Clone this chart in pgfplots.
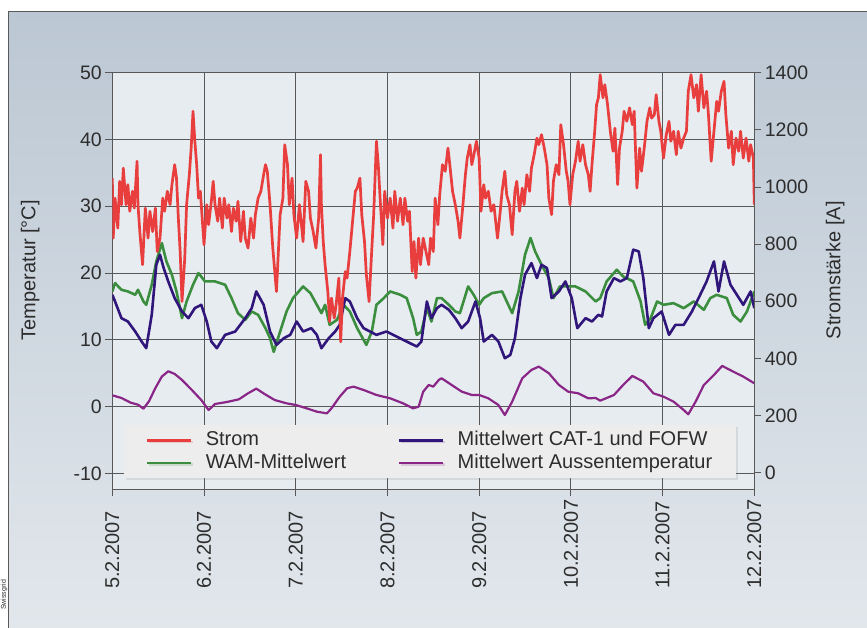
\documentclass[border=0pt]{standalone}
\usepackage{pgfplots}
\pgfplotsset{compat=1.18}
\usepackage{fontspec}
\setmainfont{Liberation Sans}
\usetikzlibrary{shadows}
\newcommand\fs[1]{\fontsize{#1}{#1}\selectfont}
\definecolor{strom}{RGB}{233,62,62}
\definecolor{wam}{RGB}{58,142,62}
\definecolor{cat}{RGB}{48,22,122}
\definecolor{aussen}{RGB}{138,38,135}
\definecolor{bgtop}{RGB}{187,199,211}
\definecolor{bgmid}{RGB}{204,213,222}
\definecolor{bgbot}{RGB}{226,231,236}
\definecolor{plotbg}{RGB}{231,236,240}
\definecolor{gridc}{RGB}{88,88,88}
\definecolor{textc}{RGB}{45,45,45}
\definecolor{legbg}{RGB}{237,237,237}

\pgfplotstableread{
d T
0.00 1.7
0.10 1.3
0.20 0.6
0.28 0.3
0.34 -0.3
0.40 0.8
0.47 2.8
0.54 4.5
0.61 5.3
0.68 4.9
0.76 4.0
0.86 2.6
0.97 1.0
1.05 -0.5
1.12 0.4
1.25 0.7
1.38 1.1
1.48 2.0
1.57 2.7
1.66 1.9
1.77 1.0
1.90 0.5
2.00 0.25
2.12 -0.25
2.23 -0.75
2.34 -1.0
2.39 -0.25
2.48 1.5
2.56 2.75
2.63 3.0
2.74 2.5
2.88 1.75
3.03 1.25
3.17 0.5
3.28 -0.25
3.34 0.0
3.39 2.25
3.45 3.25
3.50 3.0
3.56 4.0
3.59 4.25
3.70 3.25
3.81 2.25
3.92 1.75
4.00 1.75
4.10 1.25
4.21 0.25
4.28 -1.25
4.36 0.75
4.47 4.25
4.57 5.5
4.65 6.0
4.76 5.0
4.87 3.25
4.97 2.25
5.08 2.0
5.19 1.25
5.27 1.3
5.32 0.9
5.47 1.75
5.57 3.25
5.67 4.6
5.79 3.75
5.90 2.0
6.01 1.5
6.12 0.75
6.23 -0.5
6.28 -1.15
6.36 0.75
6.45 3.25
6.56 4.75
6.65 6.1
6.77 5.25
6.88 4.5
7.00 3.5
}\aussendata

\pgfplotstableread{
d T
0.00 17.25
0.03 18.5
0.10 17.5
0.17 17.25
0.25 16.75
0.28 17.5
0.34 15.75
0.37 15.25
0.43 18.25
0.48 21.75
0.54 24.5
0.59 21.75
0.65 19.75
0.70 17.25
0.76 13.25
0.81 15.75
0.88 18.25
0.94 20.0
1.01 18.75
1.12 18.75
1.23 18.25
1.30 16.25
1.37 14.0
1.45 13.0
1.52 14.25
1.59 13.75
1.67 11.75
1.72 10.25
1.76 8.2
1.83 11.25
1.90 14.25
1.97 16.25
2.08 18.0
2.16 17.0
2.23 15.25
2.28 14.0
2.32 15.25
2.37 12.25
2.45 13.0
2.52 15.25
2.59 14.25
2.67 11.75
2.77 9.25
2.83 11.25
2.88 15.25
2.96 16.25
3.03 17.25
3.14 16.75
3.21 16.25
3.28 13.25
3.32 10.75
3.37 11.25
3.43 14.75
3.48 12.75
3.54 16.25
3.59 16.25
3.67 15.25
3.74 14.25
3.79 14.0
3.88 18.0
3.94 16.75
4.00 15.25
4.05 16.25
4.14 17.0
4.25 17.25
4.36 14.0
4.43 17.25
4.50 22.75
4.56 25.25
4.61 23.25
4.68 21.25
4.76 19.25
4.81 16.25
4.88 18.0
4.97 18.0
5.05 18.0
5.16 17.25
5.27 15.75
5.32 16.25
5.39 18.75
5.50 20.5
5.57 19.5
5.68 18.75
5.76 15.75
5.81 12.25
5.87 13.25
5.94 15.75
6.01 15.25
6.12 15.5
6.23 14.75
6.34 15.75
6.45 14.5
6.52 16.25
6.59 16.75
6.70 16.25
6.77 13.75
6.85 12.75
6.92 14.25
7.00 17.25
}\wamdata

\pgfplotstableread{
d T
0.00 16.75
0.03 15.75
0.10 13.25
0.17 12.75
0.25 11.25
0.32 9.75
0.37 8.75
0.43 13.75
0.48 21.25
0.52 22.75
0.56 20.75
0.61 18.75
0.68 16.25
0.76 14.25
0.83 13.25
0.90 14.75
0.97 15.25
1.03 12.75
1.08 9.75
1.14 8.75
1.23 10.75
1.34 11.25
1.45 13.25
1.52 14.75
1.57 17.25
1.65 15.25
1.72 11.25
1.79 9.25
1.87 10.25
1.94 10.75
2.01 12.75
2.08 11.25
2.17 11.75
2.23 10.75
2.28 8.75
2.36 10.25
2.43 11.25
2.48 12.25
2.54 16.25
2.59 15.75
2.67 13.25
2.74 11.75
2.81 11.25
2.88 10.75
2.99 11.25
3.10 10.5
3.21 9.75
3.32 9.0
3.37 9.75
3.43 15.75
3.48 13.25
3.54 14.75
3.59 15.25
3.67 14.5
3.74 13.25
3.81 11.75
3.88 12.75
3.96 15.75
4.01 13.25
4.05 9.75
4.14 10.75
4.21 9.75
4.28 7.25
4.34 7.75
4.39 10.25
4.45 16.25
4.50 19.75
4.57 21.5
4.63 19.25
4.68 21.25
4.74 20.75
4.79 16.25
4.87 17.25
4.94 18.75
5.01 16.25
5.07 11.75
5.16 13.25
5.23 12.75
5.30 13.75
5.34 13.5
5.39 17.25
5.47 19.25
5.54 18.75
5.61 19.25
5.68 23.5
5.74 23.25
5.79 19.25
5.85 11.75
5.90 13.25
5.99 14.25
6.07 10.75
6.14 12.25
6.23 12.25
6.32 14.25
6.41 16.75
6.48 18.75
6.56 21.75
6.61 17.25
6.67 21.75
6.74 18.25
6.81 16.75
6.88 15.25
6.96 17.25
7.00 14.75
}\catdata

\pgfplotstableread{
d A
0.00 1031
0.01 821
0.03 961
0.06 856
0.08 1020
0.10 938
0.12 1066
0.15 938
0.17 1008
0.19 915
0.22 985
0.24 926
0.27 1090
0.28 938
0.30 844
0.33 728
0.36 926
0.39 821
0.41 915
0.44 844
0.47 926
0.49 774
0.52 821
0.55 961
0.57 915
0.60 985
0.63 938
0.65 1008
0.68 1078
0.70 1031
0.72 891
0.74 774
0.76 599
0.79 751
0.81 938
0.84 1043
0.86 1136
0.88 1265
0.90 1160
0.92 1078
0.94 961
0.96 985
0.98 891
1.00 798
1.03 938
1.05 868
1.08 950
1.10 1020
1.12 938
1.15 880
1.17 961
1.20 856
1.22 961
1.25 891
1.27 938
1.30 844
1.32 926
1.35 880
1.37 950
1.40 809
1.43 915
1.45 821
1.48 786
1.51 891
1.54 821
1.56 903
1.59 961
1.62 985
1.65 1043
1.67 1078
1.69 1055
1.72 938
1.75 786
1.79 634
1.83 903
1.86 961
1.88 1148
1.91 1078
1.93 938
1.96 1031
1.98 903
2.01 821
2.04 938
2.07 844
2.08 809
2.11 1020
2.14 985
2.16 891
2.19 844
2.22 786
2.25 891
2.27 1113
2.28 938
2.30 809
2.32 728
2.35 634
2.37 529
2.39 611
2.42 541
2.44 587
2.47 681
2.49 458
2.51 611
2.54 704
2.56 681
2.59 774
2.62 880
2.65 985
2.67 996
2.70 1031
2.72 903
2.75 809
2.77 693
2.80 599
2.83 786
2.85 903
2.88 1160
2.90 1078
2.92 961
2.95 798
2.97 985
3.00 891
3.03 961
3.06 856
3.08 985
3.11 880
3.14 961
3.17 868
3.19 961
3.22 880
3.24 915
3.27 704
3.29 809
3.31 681
3.34 821
3.36 728
3.39 821
3.42 774
3.45 728
3.47 821
3.50 774
3.52 961
3.55 868
3.57 973
3.60 1078
3.63 1055
3.66 1136
3.68 1078
3.71 985
3.74 938
3.77 880
3.79 821
3.82 926
3.85 1043
3.87 1101
3.90 1148
3.92 1078
3.95 1125
3.97 1160
4.00 1101
4.02 915
4.05 1008
4.07 961
4.10 985
4.13 915
4.16 938
4.18 880
4.20 821
4.23 915
4.25 985
4.28 1055
4.30 973
4.33 938
4.36 833
4.39 985
4.41 1020
4.44 915
4.47 996
4.49 938
4.52 1043
4.55 985
4.57 1066
4.60 1113
4.63 1171
4.65 1148
4.68 1183
4.71 1136
4.74 1078
4.76 961
4.79 903
4.81 1020
4.84 1078
4.87 1043
4.89 1218
4.92 1148
4.95 1055
4.97 1020
4.99 938
5.02 1043
5.05 1090
5.08 1160
5.10 1090
5.13 1148
5.16 1078
5.19 1043
5.21 985
5.23 1078
5.26 1195
5.28 1288
5.30 1312
5.32 1393
5.35 1312
5.37 1358
5.40 1288
5.43 1195
5.46 1125
5.48 1206
5.51 1008
5.53 1136
5.56 1195
5.58 1265
5.61 1230
5.64 1277
5.67 1218
5.69 1265
5.72 996
5.75 1136
5.77 1055
5.80 1136
5.83 1230
5.86 1277
5.88 1241
5.91 1253
5.93 1323
5.96 1230
5.98 1195
6.01 1101
6.04 1183
6.07 1230
6.09 1160
6.12 1195
6.15 1113
6.17 1195
6.20 1136
6.23 1171
6.26 1195
6.28 1335
6.31 1393
6.34 1312
6.37 1358
6.39 1265
6.42 1393
6.45 1277
6.48 1335
6.50 1253
6.53 1090
6.56 1195
6.59 1300
6.61 1265
6.64 1335
6.67 1370
6.69 1253
6.72 1136
6.75 1195
6.77 1078
6.80 1171
6.83 1125
6.85 1195
6.88 1101
6.91 1171
6.94 1090
6.96 1148
6.99 1101
7.00 938
}\stromdata

\begin{document}
\begin{tikzpicture}[x=1pt,y=1pt]
\fill[white] (0,0) rectangle (867,628);
\shade[top color=bgtop, middle color=bgmid, bottom color=bgbot] (8,0) rectangle (867,616);
\draw[black!65, line width=1pt] (8,0) -- (8,616) -- (867,616);
\node[rotate=90, font=\fs{7}, text=textc, inner sep=0pt] at (4,33) {Swissgrid};

\begin{axis}[
  at={(112.3pt,138.7pt)}, anchor=south west,
  scale only axis, width=642pt, height=416.6pt,
  xmin=0, xmax=7, ymin=-12.37, ymax=50,
  xtick={0,1,2,3,4,5,6,7},
  xticklabels={5.2.2007,6.2.2007,7.2.2007,8.2.2007,9.2.2007,10.2.2007,11.2.2007,12.2.2007},
  ytick={-10,0,10,20,30,40,50},
  yticklabels={-10,0,10,20,30,40,50},
  xtick pos=bottom, ytick pos=left,
  tick align=outside, major tick length=7pt,
  grid=major,
  grid style={line width=0.9pt, color=gridc},
  axis line style={line width=0.9pt, color=gridc},
  tick style={line width=0.9pt, color=gridc},
  axis background/.style={fill=plotbg},
  yticklabel style={font=\fs{19.5}, text=textc},
  xticklabel style={font=\fs{20}, text=textc, rotate=90, anchor=east, text width=89pt, align=left},
  ylabel={Temperatur [°C]},
  ylabel style={font=\fs{20}, text=textc, at={(axis description cs:-0.128,0.526)}, anchor=center},
]
\addplot[wam, line width=2.6pt, line join=round] table[x=d, y=T] {\wamdata};
\addplot[cat, line width=2.6pt, line join=round] table[x=d, y=T] {\catdata};
\addplot[aussen, line width=2.2pt, line join=round] table[x=d, y=T] {\aussendata};
\end{axis}

\begin{axis}[
  at={(112.3pt,138.7pt)}, anchor=south west,
  scale only axis, width=642pt, height=416.6pt,
  xmin=0, xmax=7, ymin=-58, ymax=1400,
  axis x line=none, axis y line*=right,
  ytick={0,200,400,600,800,1000,1200,1400},
  yticklabels={0,200,400,600,800,1000,1200,1400},
  tick align=outside, major tick length=7pt,
  axis line style={line width=0.9pt, color=gridc, -},
  tick style={line width=0.9pt, color=gridc},
  yticklabel style={font=\fs{19.5}, text=textc},
  ylabel={Stromstärke [A]},
  ylabel style={font=\fs{20}, text=textc, at={(axis description cs:1.126,0.526)}, anchor=center},
  legend columns=2,
  legend cell align=left,
  legend image code/.code={\draw[#1] (0pt,0pt) -- (44pt,0pt);},
  legend style={
    at={(axis description cs:0.018,0.154)}, anchor=north west,
    fill=legbg, draw=none, drop shadow={opacity=0.18, shadow xshift=1.5pt, shadow yshift=-1.5pt},
    font=\fs{20}, text=textc,
    inner xsep=22pt, inner ysep=4pt,
    nodes={inner sep=2pt, text height=14.5pt, text depth=4pt},
    /tikz/every odd column/.append style={column sep=11pt},
    /tikz/every even column/.append style={column sep=50pt},
  },
]
\addplot[strom, line width=2.7pt, line join=round] table[x=d, y=A] {\stromdata};
\addlegendentry{Strom}
\addlegendimage{cat, line width=2.6pt}
\addlegendentry{Mittelwert CAT-1 und FOFW}
\addlegendimage{wam, line width=2.6pt}
\addlegendentry{WAM-Mittelwert}
\addlegendimage{aussen, line width=2.4pt}
\addlegendentry{Mittelwert Aussentemperatur}
\end{axis}
\pgfresetboundingbox
\path[use as bounding box] (0,0) rectangle (867,628);
\end{tikzpicture}
\end{document}
